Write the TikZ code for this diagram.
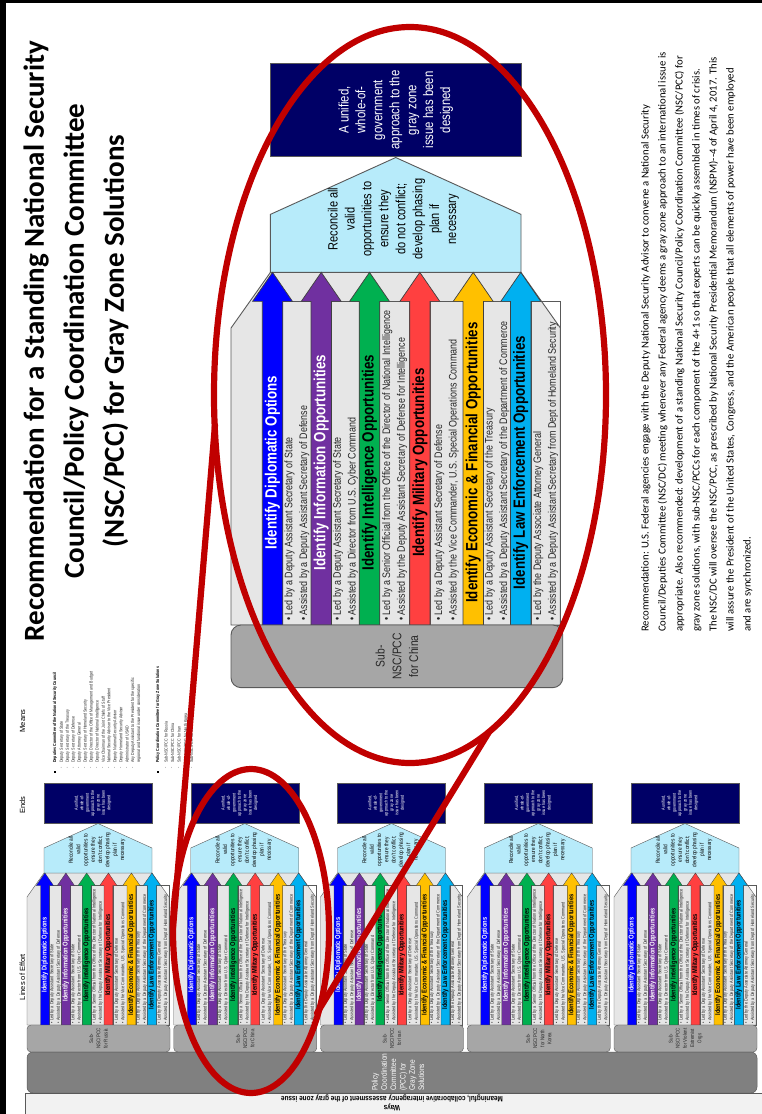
\documentclass[tikz,border=0pt]{standalone}
\usepackage{fontspec}
\setmainfont{Liberation Sans}
\newfontfamily\narfont[FakeStretch=0.82]{Liberation Sans}
\newfontfamily\calfont{Carlito}
\usetikzlibrary{shapes.geometric}
\definecolor{navy}{RGB}{0,0,102}
\definecolor{cyanbox}{RGB}{183,235,250}
\definecolor{bandgray}{RGB}{230,230,230}
\definecolor{subgray}{RGB}{166,166,166}
\definecolor{pccgray}{RGB}{128,128,128}
\definecolor{waysgray}{RGB}{242,242,242}
\definecolor{edgegray}{RGB}{89,89,89}
\definecolor{cblue}{RGB}{0,0,255}
\definecolor{cpurple}{RGB}{112,48,160}
\definecolor{cgreen}{RGB}{0,176,80}
\definecolor{cred}{RGB}{255,64,64}
\definecolor{cyellow}{RGB}{255,192,0}
\definecolor{ccyan}{RGB}{0,176,240}
\definecolor{callout}{RGB}{192,0,0}
\def\gzlw{0.4}
\def\gzrc{4}
\def\gzp{u}
% navy text: size, skip, x centre
\def\gzns{4.6}\def\gznb{5.4}\def\gznx{66}
\tikzset{
 bandst/.style={fill=bandgray, draw=edgegray, line width=\gzlw pt},
 lanest/.style={draw=edgegray, line width=0.8*\gzlw pt},
 pentst/.style={fill=cyanbox, draw=edgegray, line width=\gzlw pt},
 navyst/.style={fill=navy, draw=edgegray, line width=\gzlw pt},
 subst/.style={fill=subgray, draw=edgegray, line width=\gzlw pt, rounded corners=\gzrc pt},
 arrowst/.style={draw=black!75, line width=0.8*\gzlw pt},
 lbl/.style={rotate=90, inner sep=0, font=\narfont\bfseries\fontsize{7}{8}\selectfont},
 bul/.style={rotate=90, anchor=west, align=left, inner sep=0, text=black!85, font=\narfont\fontsize{4.7}{6.3}\selectfont},
 ellst/.style={draw=callout, line width=6.2pt, ellipse, inner sep=0},
 calloutst/.style={draw=callout, line width=6.2pt, line cap=round},
 hdr/.style={rotate=90, inner sep=0, font=\fontsize{7.5}{8}\selectfont},
 mtxt/.style={rotate=90, anchor=west, inner sep=0, text=black!85, font=\narfont\fontsize{4.4}{5}\selectfont},
 mhead/.style={mtxt, text=black, font=\narfont\bfseries\fontsize{4.4}{5}\selectfont}
}
% one lane: #1 index, #2 x of shaft, #3 colour, #4 text colour, #5 label, #6 bullet 1, #7 bullet 2, #8 right edge of bullet lane
\newcommand\gzlane[8]{%
 \draw[lanest] ({#2+8.8},-139.5) rectangle (#8,0);
 \draw[arrowst, fill=#3] (#2,0) -- (#2,-139.5) -- ({#2-4.2},-139.5) -- ({#2+4.4},-152) -- ({#2+13},-139.5) -- ({#2+8.8},-139.5) -- ({#2+8.8},0) -- cycle;
 \node[lbl, text=#4] (\gzp-lbl#1) at ({#2+4.4},-70) {#5};
 \node[bul] (\gzp-bul#1) at ({(#2+8.8+#8)/2},-1.6) {\textbullet\ #6\\\textbullet\ #7};
}
% one sub-NSC/PCC unit: #1 sub label, #2 conflict wording
\newcommand\gzunit[2]{%
 \draw[bandst] (0,0) -- (0,-128) -- (17,-152) -- (125,-152) -- (142,-128) -- (142,0) -- cycle;
 \draw[pentst] (17,-152) -- (17,-177) -- (71,-201.5) -- (125,-177) -- (125,-152) -- cycle;
 \draw[navyst] (17,-242) rectangle (125,-202);
 \node[rotate=90, align=center, inner sep=0, text=white, font=\narfont\fontsize{\gzns}{\gznb}\selectfont] (\gzp-ends) at (\gznx,-222) {A unified,\\whole-of-\\government\\approach to the\\gray zone\\issue has been\\designed};
 \node[rotate=90, align=center, inner sep=0, font=\narfont\fontsize{5.8}{7.3}\selectfont] (\gzp-rec) at (70,-175) {Reconcile all\\valid\\opportunities to\\ensure they\\#2 conflict;\\develop phasing\\plan if\\necessary};
 \gzlane{1}{13.5}{cblue}{white}{Identify Diplomatic Options}{Led by a Deputy Assistant Secretary of State}{Assisted by a Deputy Assistant Secretary of Defense}{34.5}
 \gzlane{2}{34.5}{cpurple}{white}{Identify Information Opportunities}{Led by a Deputy Assistant Secretary of State}{Assisted by a Director from U.S. Cyber Command}{55.3}
 \gzlane{3}{55.3}{cgreen}{black}{Identify Intelligence Opportunities}{Led by a Senior Official from the Office of the Director of National Intelligence}{Assisted by the Deputy Assistant Secretary of Defense for Intelligence}{77}
 \gzlane{4}{77}{cred}{black}{Identify Military Opportunities}{Led by a Deputy Assistant Secretary of Defense}{Assisted by the Vice Commander, U.S. Special Operations Command}{100}
 \gzlane{5}{100}{cyellow}{black}{Identify Economic \& Financial Opportunities}{Led by a Deputy Assistant Secretary of the Treasury}{Assisted by a Deputy Assistant Secretary of the Department of Commerce}{120.5}
 \gzlane{6}{120.5}{ccyan}{black}{Identify Law Enforcement Opportunities}{Led by the Deputy Associate Attorney General}{Assisted by a Deputy Assistant Secretary from Dept of Homeland Security}{142}
 \draw[subst] (0,0) rectangle (143,27);
 \node[rotate=90, align=center, inner sep=0, text=black!85, font=\narfont\fontsize{5.4}{7.2}\selectfont] (\gzp-sub) at (71.5,13.5) {#1};
}
\begin{document}
\begin{tikzpicture}[x=1pt,y=-1pt]
\useasboundingbox (0,0) rectangle (762,1114);
\fill[white] (0,0) rectangle (762,1114);
% page frame
\fill[black] (0,0) rectangle (5.5,1114);
\fill[black] (0,0) rectangle (762,3);
% title
\node[rotate=90, align=center, inner sep=0, font=\calfont\bfseries\fontsize{29}{40}\selectfont] (title) at (76,341)
 {Recommendation for a Standing National Security\\Council/Policy Coordination Committee\\(NSC/PCC) for Gray Zone Solutions};
% caption
\node[rotate=90, anchor=north west, align=left, inner sep=0, font=\calfont\fontsize{10.7}{17}\selectfont] (caption) at (641,632)
 {Recommendation: U.S. Federal agencies engage with the Deputy National Security Advisor to convene a National Security\\
 Council/Deputies Committee (NSC/DC) meeting whenever any Federal agency deems a gray zone approach to an international issue is\\
 appropriate. Also recommended: development of a standing National Security Council/Policy Coordination Committee (NSC/PCC) for\\
 gray zone solutions, with sub-NSC/PCCs for each component of the 4+1 so that experts can be quickly assembled in times of crisis.\\
 The NSC/DC will oversee the NSC/PCC, as prescribed by National Security Presidential Memorandum (NSPM)--4 of April 4, 2017. This\\
 will assure the President of the United States, Congress, and the American people that all elements of power have been employed\\
 and are synchronized.};
% small slide: headers
\node[hdr] (hmeans) at (22.5,721) {Means};
\node[hdr] (hends) at (22.5,805) {Ends};
\node[hdr] (hloe) at (22.5,977) {Lines of Effort};
% means text
\fill[black] (54,770.5) rectangle (56,772.5);
\node[mhead] (mh1) at (55,763) {Deputies Committee of the National Security Council};
\foreach \t [count=\i from 0] in {Deputy Secretary of State, Deputy Secretary of the Treasury, Deputy Secretary of Defense, Deputy Attorney General, Deputy Secretary of Homeland Security, Deputy Director of the Office of Management and Budget, Deputy Director of National Intelligence, Vice Chairman of the Joint Chiefs of Staff, National Security Advisor to the Vice President, Deputy National Security Advisor, Deputy Homeland Security Advisor, Administrator of USAID, Any Deputy Assistant to the President for the specific}{
 \node[mtxt] (md\i) at ({61.7+5.95*\i},763) {\t};
 \node[mtxt] (mdd\i) at ({61.7+5.95*\i},768.5) {-};
}
\node[mtxt] (mdcont) at (139,763) {regional and functional issue under consideration};
\fill[black] (157,770.5) rectangle (159,772.5);
\node[mhead] (mh2) at (158,763) {Policy Coordination Committee for Gray Zone Solutions};
\foreach \t [count=\i from 0] in {Sub-NSC/PCC for Russia, Sub-NSC/PCC for China, Sub-NSC/PCC for Iran, Sub-NSC/PCC for North Korea, Sub-NSC/PCC for Violent Extremist Orgs}{
 \node[mtxt] (mp\i) at ({166+6.5*\i},763) {\t};
 \node[mtxt] (mpd\i) at ({166+6.5*\i},768.5) {-};
}
% small units
\begin{scope}[shift={(27,1025)}]\def\gzp{ru}\gzunit{Sub-\\NSC/PCC\\for Russia}{don't}\end{scope}
\begin{scope}[shift={(173.75,1025)}]\def\gzp{cn}\gzunit{Sub-\\NSC/PCC\\for China}{don't}\end{scope}
\begin{scope}[shift={(320.5,1025)}]\def\gzp{ir}\gzunit{Sub-\\NSC/PCC\\for Iran}{don't}\end{scope}
\begin{scope}[shift={(467.25,1025)}]\def\gzp{nk}\gzunit{Sub-\\NSC/PCC\\for North\\Korea}{don't}\end{scope}
\begin{scope}[shift={(614,1025)}]\def\gzp{ve}\gzunit{Sub-\\NSC/PCC\\for Violent\\Extremist\\Orgs}{don't}\end{scope}
% PCC band and Ways strip
\draw[fill=pccgray, draw=edgegray, line width=0.5pt, rounded corners=6pt] (27,1052) rectangle (757,1093);
\node[rotate=90, anchor=west, align=left, inner sep=0, text=white, font=\narfont\fontsize{8}{9.3}\selectfont] (pcc) at (398,1091)
 {Policy\\Coordination\\Committee\\(PCC) for\\Gray Zone\\Solutions};
\draw[fill=waysgray, draw=edgegray, line width=0.5pt] (25,1093.5) rectangle (764,1116);
\node[rotate=180, align=center, inner sep=0, font=\narfont\bfseries\fontsize{7.8}{9}\selectfont] (ways) at (392,1103)
 {Ways\\Meaningful, collaborative interagency assessment of the gray zone issue};
% big unit
\begin{scope}[shift={(231,625)}, scale=2.32, transform shape]
 \def\gzlw{0.9}\def\gzrc{10}\def\gzp{big}\def\gzns{6}\def\gznb{7.3}\def\gznx{71}
 \gzunit{Sub-\\NSC/PCC\\for China}{do not}
\end{scope}
% callout
\node[ellst, minimum width=392pt, minimum height=736pt] (bigE) at (410,395) {};
\node[ellst, minimum width=156pt, minimum height=324pt] (smallE) at (251,931) {};
\coordinate (l1) at (173,928);
\coordinate (l2) at (215,425);
\coordinate (r1) at (317,1013);
\coordinate (r2) at (489,732);
\draw[calloutst] (l1) -- (l2);
\draw[calloutst] (r1) -- (r2);
\end{tikzpicture}
\end{document}
